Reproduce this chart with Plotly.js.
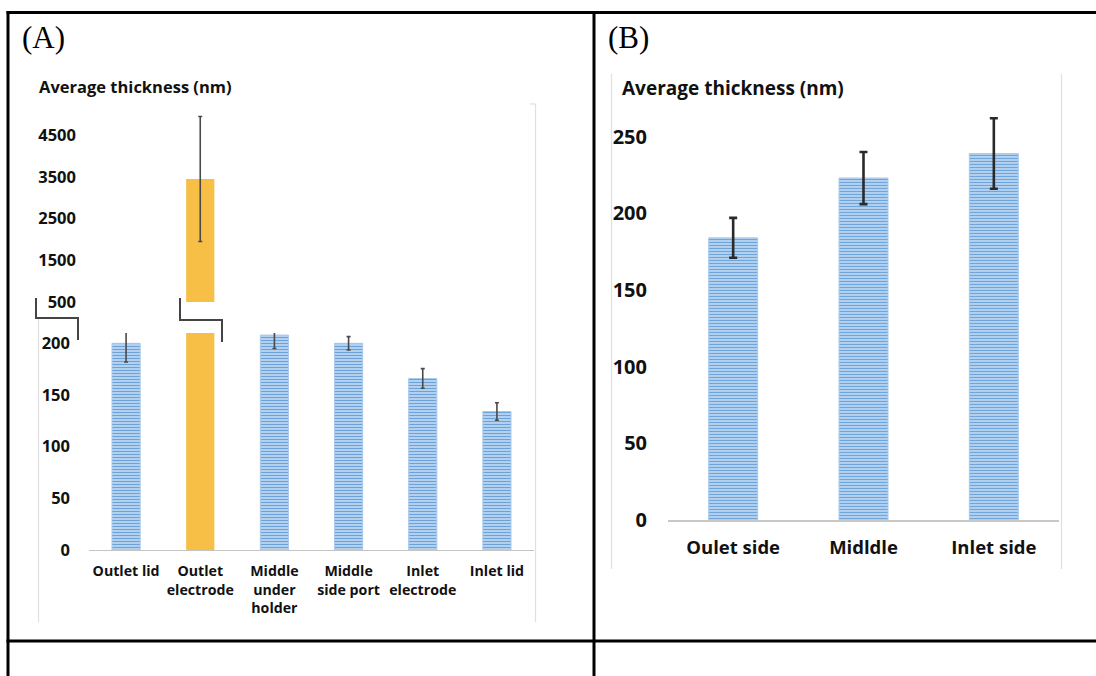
<!DOCTYPE html>
<html>
<head>
<meta charset="utf-8">
<script src="https://cdn.plot.ly/plotly-3.0.1.min.js"></script>
<style>
html,body{margin:0;padding:0;background:#fff;}
#chart{width:1096px;height:676px;}
</style>
</head>
<body>
<div id="chart"></div>
<script>
// ---- Data: panel A ----
var catsA = ['Outlet lid', 'Outlet electrode', 'Middle under holder', 'Middle side port', 'Inlet electrode', 'Inlet lid'];
var tickTextA = ['Outlet lid', 'Outlet<br>electrode', 'Middle<br>under<br>holder', 'Middle<br>side port', 'Inlet<br>electrode', 'Inlet lid'];
var valuesA = [200, 3450, 208, 200, 166, 134];
var errorsA = [18, 1500, 13, 6.5, 9.5, 8.5];
var highlightA = 'Outlet electrode';
var lowerTicksA = [0, 50, 100, 150, 200];
var upperTicksA = [500, 1500, 2500, 3500, 4500];

// ---- Data: panel B ----
var catsB = ['Oulet side', 'Midldle', 'Inlet side'];
var valuesB = [184, 223, 239];
var errorsB = [13, 17, 23];
var ticksB = [0, 50, 100, 150, 200, 250];

var yTitle = 'Average thickness (nm)';

// ---- helpers: pixel -> paper ----
var W = 1096, H = 676;
function X(px){ return px / W; }
function Y(py){ return 1 - py / H; }

var FONT = 'Open Sans, Lato, sans-serif';
var blueMarker = {
  color: '#a7c7ea',
  pattern: {shape: '-', fgcolor: '#6aa3dc', bgcolor: '#c2daf3', size: 3, solidity: 0.45},
  line: {color: '#a9c9ee', width: 1}
};
var orange = '#f7bf45';

var blueIdx = catsA.map(function(c){ return c !== highlightA; });

var traces = [
  {
    type: 'bar', x: catsA,
    y: valuesA.map(function(v, i){ return blueIdx[i] ? v : null; }),
    error_y: {type: 'data', array: errorsA.map(function(e, i){ return blueIdx[i] ? e : null; }),
              color: '#4a4a4a', thickness: 1.6, width: 2},
    marker: blueMarker, width: 0.38, xaxis: 'x', yaxis: 'y', hoverinfo: 'x+y'
  },
  {
    type: 'bar', x: catsA,
    y: valuesA.map(function(v, i){ return blueIdx[i] ? null : v; }),
    marker: {color: orange}, width: 0.38, xaxis: 'x', yaxis: 'y', hoverinfo: 'x+y'
  },
  {
    type: 'bar', x: catsA,
    y: valuesA.map(function(v, i){ return blueIdx[i] ? null : v; }),
    error_y: {type: 'data', array: errorsA.map(function(e, i){ return blueIdx[i] ? null : e; }),
              color: '#4a4a4a', thickness: 1.6, width: 2},
    marker: {color: orange}, width: 0.38, xaxis: 'x2', yaxis: 'y2', hoverinfo: 'x+y'
  },
  {
    type: 'bar', x: catsB, y: valuesB,
    error_y: {type: 'data', array: errorsB, color: '#2a2a2a', thickness: 2.6, width: 4},
    marker: blueMarker, width: 0.376, xaxis: 'x3', yaxis: 'y3', hoverinfo: 'x+y'
  }
];

function path(pts){
  return pts.map(function(p, i){ return (i ? 'L' : 'M') + X(p[0]) + ',' + Y(p[1]); }).join(' ');
}
function line(x0, y0, x1, y1, color, w){
  return {type: 'line', xref: 'paper', yref: 'paper', x0: X(x0), y0: Y(y0), x1: X(x1), y1: Y(y1),
          line: {color: color, width: w}};
}

var shapes = [
  line(6.5, 12.5, 1096, 12.5, '#000', 3),
  line(8, 11, 8, 676, '#000', 3),
  line(594, 11, 594, 676, '#000', 3),
  line(6.5, 641, 1096, 641, '#000', 3),
  line(38.5, 318, 38.5, 622, '#e0e0e0', 1.2),
  line(535.5, 104, 535.5, 622, '#e0e0e0', 1.2),
  line(530, 104, 535.5, 104, '#e0e0e0', 1.2),
  line(611.5, 74, 611.5, 569, '#e0e0e0', 1.2),
  line(1061.5, 74, 1061.5, 569, '#e0e0e0', 1.2),
  {type: 'path', xref: 'paper', yref: 'paper', path: path([[36,298],[36,318],[78,318],[78,340]]),
   line: {color: '#444', width: 2}},
  {type: 'path', xref: 'paper', yref: 'paper', path: path([[180,298],[180,320],[222,320],[222,342]]),
   line: {color: '#444', width: 2}}
];

var annotations = [
  {text: '(A)', xref: 'paper', yref: 'paper', x: X(20), y: Y(37), xanchor: 'left', yanchor: 'middle',
   showarrow: false, font: {family: 'Liberation Serif, serif', size: 31, color: '#000'}},
  {text: '(B)', xref: 'paper', yref: 'paper', x: X(606), y: Y(37), xanchor: 'left', yanchor: 'middle',
   showarrow: false, font: {family: 'Liberation Serif, serif', size: 31, color: '#000'}},
  {text: '<b>' + yTitle + '</b>', xref: 'paper', yref: 'paper', x: X(37), y: Y(87), xanchor: 'left', yanchor: 'middle',
   showarrow: false, font: {family: FONT, size: 16.5, color: '#111'}},
  {text: '<b>' + yTitle + '</b>', xref: 'paper', yref: 'paper', x: X(620), y: Y(88), xanchor: 'left', yanchor: 'middle',
   showarrow: false, font: {family: FONT, size: 19, color: '#111'}}
];

var tickFontA = {family: FONT, size: 16.5, color: '#111', weight: 'bold'};
var catFontA = {family: FONT, size: 14.2, color: '#111', weight: 'bold'};
var tickFontB = {family: FONT, size: 20, color: '#111', weight: 'bold'};
var catFontB = {family: FONT, size: 18.5, color: '#111', weight: 'bold'};

var layout = {
  width: W, height: H,
  margin: {l: 0, r: 0, t: 0, b: 0},
  paper_bgcolor: '#fff', plot_bgcolor: 'rgba(0,0,0,0)',
  showlegend: false, barmode: 'overlay',
  xaxis: {domain: [X(89), X(534)], anchor: 'y', type: 'category', categoryorder: 'array', categoryarray: catsA,
          range: [-0.5, 5.5], tickmode: 'array', tickvals: catsA, ticktext: tickTextA,
          showline: true, linecolor: '#c4c4c4', linewidth: 1.2, ticks: '', showgrid: false, zeroline: false,
          tickfont: catFontA, ticklabelstandoff: 8, automargin: false, fixedrange: true},
  yaxis: {domain: [Y(550), Y(333)], range: [0, 210], anchor: 'free', position: X(70),
          tickmode: 'array', tickvals: lowerTicksA, showline: false, showgrid: false, zeroline: false, ticks: '',
          tickfont: tickFontA, automargin: false, fixedrange: true},
  xaxis2: {domain: [X(89), X(534)], anchor: 'y2', type: 'category', categoryorder: 'array', categoryarray: catsA,
           range: [-0.5, 5.5], visible: false, fixedrange: true},
  yaxis2: {domain: [Y(302), Y(114.4)], range: [500, 5000], anchor: 'free', position: X(76),
           tickmode: 'array', tickvals: upperTicksA, showline: false, showgrid: false, zeroline: false, ticks: '',
           tickfont: tickFontA, automargin: false, fixedrange: true},
  xaxis3: {domain: [X(668), X(1059)], anchor: 'y3', type: 'category', categoryorder: 'array', categoryarray: catsB,
           range: [-0.5, 2.5], showline: true, linecolor: '#c8c8c8', linewidth: 2.2, ticks: '', showgrid: false,
           zeroline: false, tickfont: catFontB, ticklabelstandoff: 10, automargin: false, fixedrange: true},
  yaxis3: {domain: [Y(520), Y(520 - 270 * 1.5335)], range: [0, 270], anchor: 'free', position: X(647),
           tickmode: 'array', tickvals: ticksB, showline: false, showgrid: false, zeroline: false, ticks: '',
           tickfont: tickFontB, automargin: false, fixedrange: true},
  shapes: shapes,
  annotations: annotations
};

Plotly.newPlot('chart', traces, layout, {staticPlot: true, displayModeBar: false});
</script>
</body>
</html>
